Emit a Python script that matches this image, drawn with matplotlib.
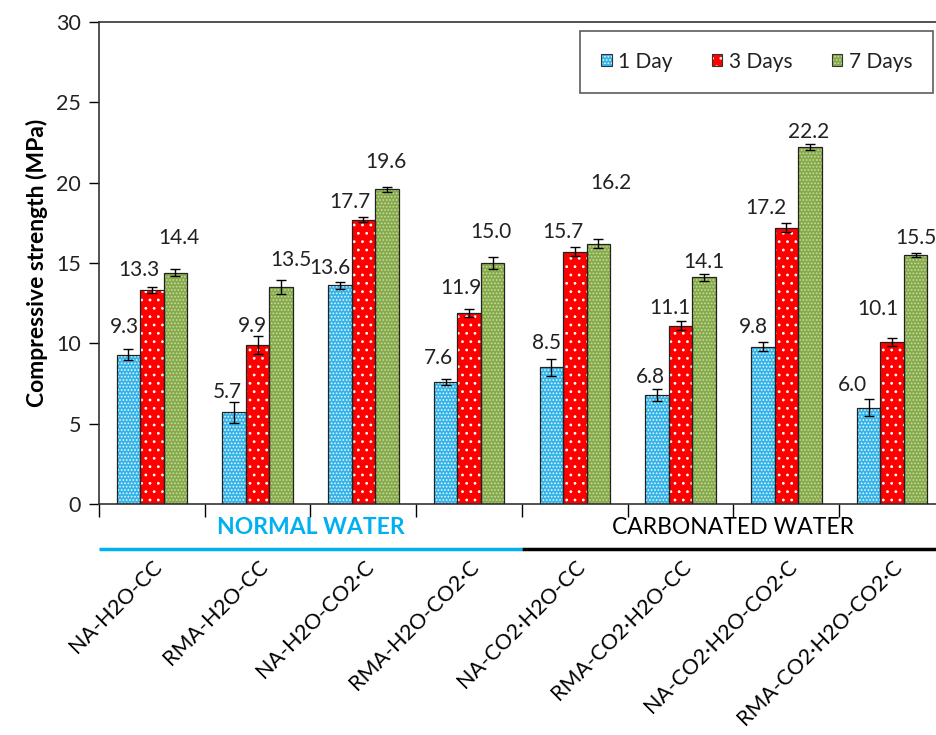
import matplotlib
matplotlib.use("Agg")
import matplotlib.pyplot as plt
import matplotlib.transforms as mtransforms
from matplotlib.patches import Patch
import numpy as np

plt.rcParams['font.family'] = ['Lato', 'DejaVu Sans']
plt.rcParams['hatch.linewidth'] = 0.8

# dati
campioni = ['NA-H2O-CC', 'RMA-H2O-CC', 'NA-H2O-CO2·C', 'RMA-H2O-CO2·C',
            'NA-CO2·H2O-CC', 'RMA-CO2·H2O-CC', 'NA-CO2·H2O-CO2·C', 'RMA-CO2·H2O-CO2·C']
serie = ['1 Day', '3 Days', '7 Days']
giorno_1 = [9.3, 5.7, 13.6, 7.6, 8.5, 6.8, 9.8, 6.0]
giorni_3 = [13.3, 9.9, 17.7, 11.9, 15.7, 11.1, 17.2, 10.1]
giorni_7 = [14.4, 13.5, 19.6, 15.0, 16.2, 14.1, 22.2, 15.5]
err_1 = [0.35, 0.65, 0.22, 0.2, 0.52, 0.36, 0.3, 0.54]
err_3 = [0.18, 0.57, 0.15, 0.23, 0.28, 0.29, 0.27, 0.25]
err_7 = [0.2, 0.45, 0.15, 0.4, 0.29, 0.19, 0.18, 0.11]
gruppi = ['NORMAL WATER', 'CARBONATED WATER']

# posizione delle etichette (altezza in MPa, spostamento orizzontale in px)
lab_y = [[11.0, 7.0, 14.7, 9.08, 10.04, 7.92, 11.03, 7.4],
         [14.56, 11.1, 18.8, 13.44, 16.95, 12.2, 18.4, 12.13],
         [16.55, 15.2, 21.3, 16.95, 20.0, 15.08, 23.17, 16.53]]
lab_dx = [[-4, -7, -10, -7, -5, -7, -10, -16],
          [-13, -5, -13, -8, -12, -11, -20, -14],
          [4, 10, -1, -2, 13, 0, -1, 0]]

valori = [giorno_1, giorni_3, giorni_7]
errori = [err_1, err_3, err_7]
colori = ['#35B3E8', '#FF0000', '#86AA4A']
tratteggi = ['.....', '..', '.....']
col_tratt = ['#E6F6FD', 'white', '#C8DBA4']

fig = plt.figure(figsize=(9.37, 7.35), dpi=100)
ax = fig.add_axes([99/937, 1-504/735, 846/937, 482/735])

x = np.arange(len(campioni))
w = 0.222
for k in range(3):
    pos = x + (k - 1) * w
    ax.bar(pos, valori[k], w, color=colori[k], hatch=tratteggi[k],
           edgecolor=col_tratt[k], linewidth=0, zorder=2)
    ax.bar(pos, valori[k], w, facecolor='none', edgecolor='#222222',
           linewidth=0.9, zorder=3)
    ax.errorbar(pos, valori[k], yerr=errori[k], fmt='none', ecolor='black',
                elinewidth=1, capsize=3.5, capthick=1, zorder=4)
    for i in range(len(campioni)):
        ax.text(pos[i] + lab_dx[k][i] / 105.7, lab_y[k][i], f'{valori[k][i]:.1f}',
                ha='center', va='center', fontsize=15, color='#222222')

# legenda
maniglie = []
for k in range(3):
    riemp = Patch(facecolor=colori[k], hatch=tratteggi[k], edgecolor=col_tratt[k], linewidth=0)
    bordo = Patch(facecolor='none', edgecolor='#333333', linewidth=0.8)
    maniglie.append((riemp, bordo))
leg = ax.legend(maniglie, serie, ncol=3, loc='upper right',
                bbox_to_anchor=((933-99)/846, (504-31)/482),
                fontsize=15, frameon=True, fancybox=False, edgecolor='#333333',
                handlelength=0.5, handleheight=0.5, handletextpad=0.3,
                columnspacing=1.9, borderpad=1.0, borderaxespad=0)
leg.get_frame().set_linewidth(1.2)
for t in leg.get_texts():
    t.set_color('#222222')

ax.set_xlim(-0.5, 7.5)
ax.set_ylim(0, 30)
ax.set_yticks(np.arange(0, 31, 5))
ax.tick_params(axis='y', labelsize=15.5, length=7, width=1, direction='out', pad=6,
               labelcolor='#222222')
ax.set_xticks(x)
ax.set_xticklabels(campioni, rotation=45, ha='right', rotation_mode='anchor', fontsize=15.5)
ax.tick_params(axis='x', length=0, pad=38)
ax.set_xticks(np.arange(-0.5, 8, 1), minor=True)
ax.tick_params(axis='x', which='minor', length=9, width=1, direction='out')
ax.spines['right'].set_visible(False)
for s in ['left', 'bottom', 'top']:
    ax.spines[s].set_color('#333333')
    ax.spines[s].set_linewidth(1.2)

ax.set_ylabel('Compressive strength (MPa)', fontsize=16.5, fontweight='bold', labelpad=6)

# gruppi sotto l'asse
trans = mtransforms.blended_transform_factory(ax.transData, ax.transAxes)
ax.text(1.5, -0.048, gruppi[0], transform=trans, ha='center', va='center',
        fontsize=16.5, color='#00B0F0', fontweight='bold', clip_on=False)
ax.text(5.5, -0.048, gruppi[1], transform=trans, ha='center', va='center',
        fontsize=16.5, color='black', clip_on=False)
ax.plot([-0.5, 3.5], [-0.093, -0.093], transform=trans, color='#00B0F0',
        linewidth=2.5, clip_on=False, solid_capstyle='butt')
ax.plot([3.5, 7.5], [-0.093, -0.093], transform=trans, color='black',
        linewidth=2.5, clip_on=False, solid_capstyle='butt')

fig.savefig('out.png', dpi=100)
